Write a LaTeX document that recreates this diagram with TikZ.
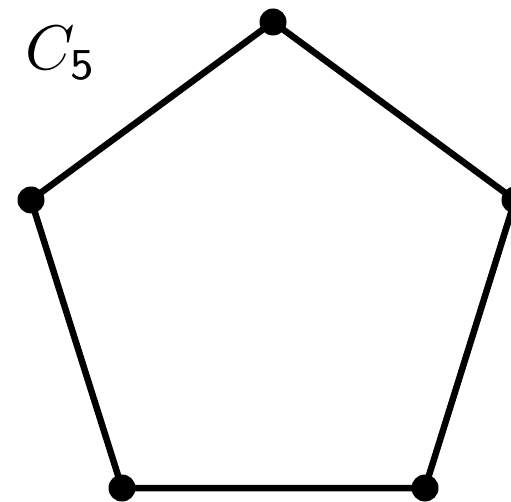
\documentclass[tikz,border=0pt]{standalone}
\begin{document}
\begin{tikzpicture}[x=1pt,y=-1pt,
  vtx/.style={circle,fill=black,inner sep=0pt,minimum size=27pt},
  edge/.style={line width=6.5pt}]
\useasboundingbox (0,0) rectangle (511,502);
\clip (0,0) rectangle (511,502);
\node[vtx] (t) at (273,22) {};
\node[vtx] (l) at (31,200) {};
\node[vtx] (r) at (515,200) {};
\node[vtx] (bl) at (122,488) {};
\node[vtx] (br) at (425,488) {};
\draw[edge] (t.center) -- (l.center) -- (bl.center) -- (br.center) -- (r.center) -- (t.center);
\node[scale=6.3,inner sep=0pt] (lab) at (61,53) {$C_{\mathsf{5}}$};
\end{tikzpicture}
\end{document}
